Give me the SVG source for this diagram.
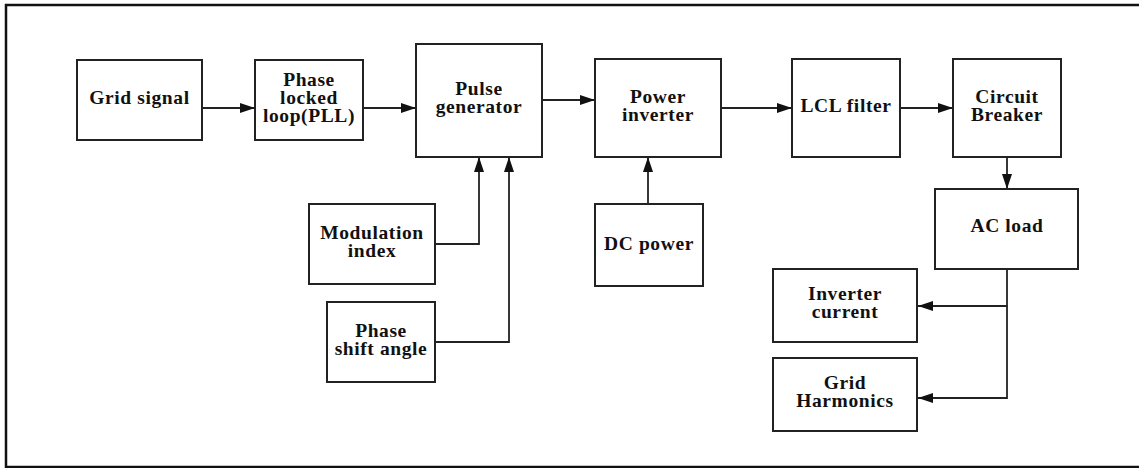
<svg xmlns="http://www.w3.org/2000/svg" width="1139" height="468" viewBox="0 0 1139 468">
<style>
.box{fill:#fff;stroke:#222;stroke-width:2}
.t{font-family:"Liberation Serif",serif;font-weight:bold;font-size:19.5px;letter-spacing:0.6px;fill:#111;text-anchor:middle}
.c{fill:none;stroke:#222;stroke-width:1.8}
</style>
<defs>
<marker id="ah" markerUnits="userSpaceOnUse" markerWidth="16" markerHeight="10" refX="15" refY="5" orient="auto">
<path d="M0,0 L15,5 L0,10 Z" fill="#111"/>
</marker>
</defs>
<rect x="6" y="5" width="1140" height="462" fill="#fff" stroke="#111" stroke-width="2.5"/>
<g id="connectors">
<line class="c" x1="202" y1="108" x2="255" y2="108" marker-end="url(#ah)"/>
<line class="c" x1="363" y1="108" x2="416" y2="108" marker-end="url(#ah)"/>
<line class="c" x1="542" y1="100" x2="595" y2="100" marker-end="url(#ah)"/>
<line class="c" x1="721" y1="108" x2="792" y2="108" marker-end="url(#ah)"/>
<line class="c" x1="900" y1="108" x2="953" y2="108" marker-end="url(#ah)"/>
<line class="c" x1="1007" y1="157" x2="1007" y2="189" marker-end="url(#ah)"/>
<polyline class="c" points="435,244 479,244 479,157" marker-end="url(#ah)"/>
<polyline class="c" points="435,342 509,342 509,157" marker-end="url(#ah)"/>
<line class="c" x1="648" y1="204" x2="648" y2="157" marker-end="url(#ah)"/>
<polyline class="c" points="1007,269 1007,306 918,306" marker-end="url(#ah)"/>
<polyline class="c" points="1007,306 1007,398 918,398" marker-end="url(#ah)"/>
</g>
<g id="grid-signal"><rect class="box" x="77" y="60" width="125" height="80"/><text class="t" x="139.5" y="104">Grid signal</text></g>
<g id="pll"><rect class="box" x="255" y="60" width="108" height="80"/><text class="t" x="309" y="86">Phase</text><text class="t" x="309" y="104">locked</text><text class="t" x="309" y="122">loop(PLL)</text></g>
<g id="pulse-generator"><rect class="box" x="416" y="44" width="126" height="113"/><text class="t" x="479" y="95">Pulse</text><text class="t" x="479" y="113">generator</text></g>
<g id="power-inverter"><rect class="box" x="595" y="59" width="126" height="98"/><text class="t" x="658" y="103">Power</text><text class="t" x="658" y="121">inverter</text></g>
<g id="lcl-filter"><rect class="box" x="792" y="59" width="108" height="98"/><text class="t" x="846" y="112">LCL filter</text></g>
<g id="circuit-breaker"><rect class="box" x="953" y="59" width="108" height="98"/><text class="t" x="1007" y="103">Circuit</text><text class="t" x="1007" y="121">Breaker</text></g>
<g id="ac-load"><rect class="box" x="935" y="189" width="143" height="80"/><text class="t" x="1007" y="232">AC load</text></g>
<g id="dc-power"><rect class="box" x="595" y="204" width="108" height="82"/><text class="t" x="649" y="250">DC power</text></g>
<g id="modulation-index"><rect class="box" x="309" y="204" width="126" height="80"/><text class="t" x="372" y="239">Modulation</text><text class="t" x="372" y="257">index</text></g>
<g id="phase-shift-angle"><rect class="box" x="327" y="302" width="108" height="80"/><text class="t" x="381" y="337">Phase</text><text class="t" x="381" y="355">shift angle</text></g>
<g id="inverter-current"><rect class="box" x="773" y="269" width="144" height="73"/><text class="t" x="845" y="300">Inverter</text><text class="t" x="845" y="318">current</text></g>
<g id="grid-harmonics"><rect class="box" x="773" y="358" width="144" height="73"/><text class="t" x="845" y="389">Grid</text><text class="t" x="845" y="407">Harmonics</text></g>
</svg>
